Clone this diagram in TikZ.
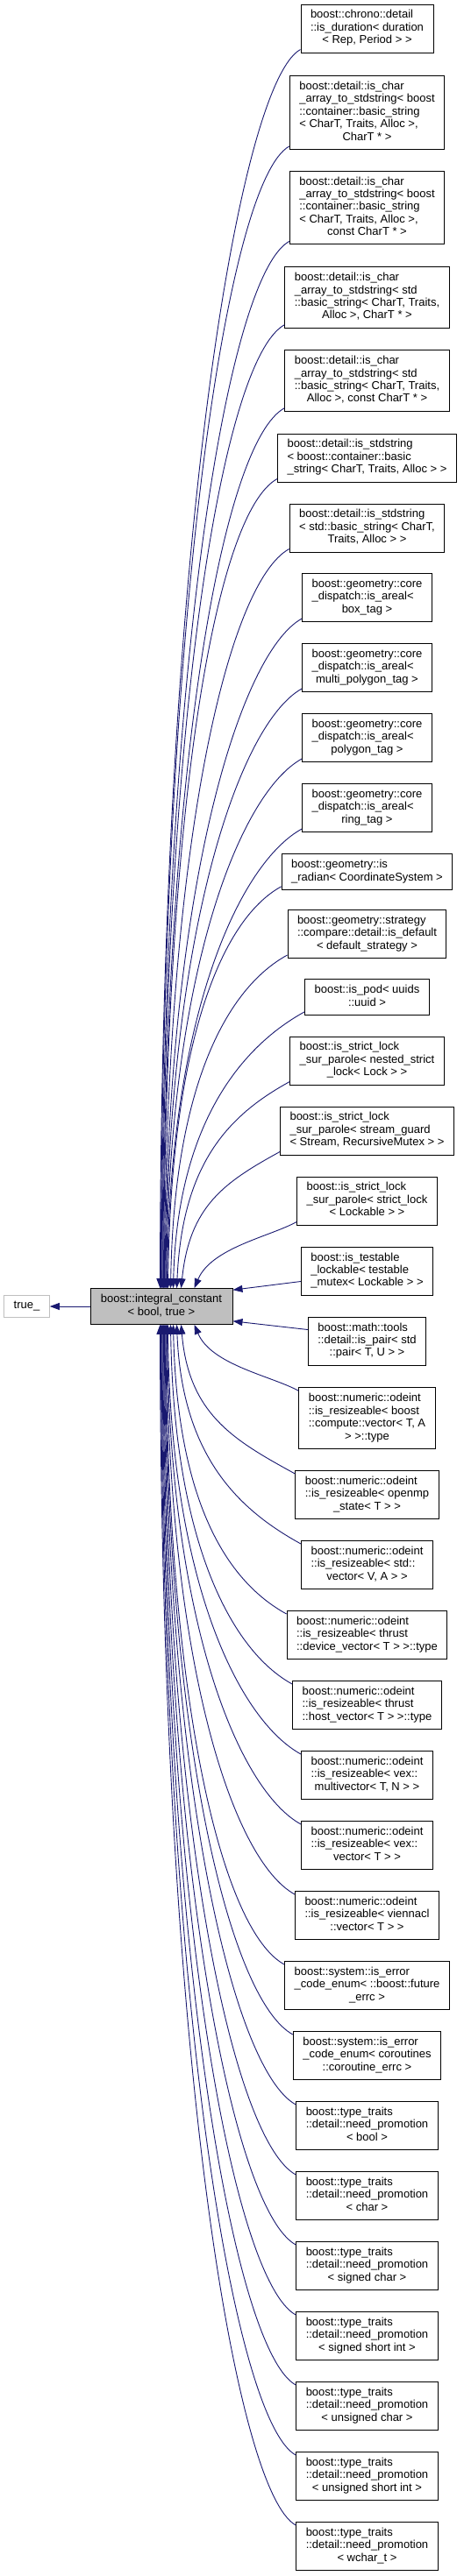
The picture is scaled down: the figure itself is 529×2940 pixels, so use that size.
\documentclass[tikz,border=0pt]{standalone}
\usepackage{fontspec}
\setmainfont{Liberation Sans}
\usetikzlibrary{arrows.meta}
\definecolor{edgeblue}{HTML}{191970}
\definecolor{greyfill}{HTML}{BFBFBF}
% lines left aligned, last line centred
\newcommand\cls[2]{\begin{tabular}{@{}l@{}}#1\\\multicolumn{1}{@{}c@{}}{#2}\end{tabular}}

\begin{document}
\begin{tikzpicture}[x=1pt,y=-1pt,
  cbox/.style={draw=black,line width=1pt,fill=white,inner xsep=11pt,inner ysep=5.9pt,
    font=\fontsize{13}{14.4}\selectfont},
  inh/.style={draw=edgeblue,line width=0.9pt,-{Triangle[length=11pt,width=8pt]}}]
\useasboundingbox (0,0) rectangle (529,2940);
\node[cbox,fill=greyfill,minimum width=162pt] (ic) at (184,1491) {\cls{boost::integral\_constant}{< bool, true >}};
\node[cbox,draw=greyfill,minimum width=51pt,minimum height=25pt] (tr) at (30.5,1491) {true\_};
\draw[inh] (ic) -- (tr);
\foreach \i/\y/\n/\tx/\txt in {
 1/32.5/3/183/{\cls{boost::chrono::detail\\::is\_duration< duration}{< Rep, Period > >}},
 2/128.5/5/183.8/{\cls{boost::detail::is\_char\\\_array\_to\_stdstring< boost\\::container::basic\_string\\< CharT, Traits, Alloc >,}{CharT * >}},
 3/237/5/184.6/{\cls{boost::detail::is\_char\\\_array\_to\_stdstring< boost\\::container::basic\_string\\< CharT, Traits, Alloc >,}{const CharT * >}},
 4/339.5/4/185.4/{\cls{boost::detail::is\_char\\\_array\_to\_stdstring< std\\::basic\_string< CharT, Traits,}{Alloc >, CharT * >}},
 5/434.5/4/186.2/{\cls{boost::detail::is\_char\\\_array\_to\_stdstring< std\\::basic\_string< CharT, Traits,}{Alloc >, const CharT * >}},
 6/522.5/3/187/{\cls{boost::detail::is\_stdstring\\< boost::container::basic}{\_string< CharT, Traits, Alloc > >}},
 7/602.5/3/187.8/{\cls{boost::detail::is\_stdstring\\< std::basic\_string< CharT,}{Traits, Alloc > >}},
 8/682/3/188.6/{\cls{boost::geometry::core\\\_dispatch::is\_areal<}{box\_tag >}},
 9/762/3/189.4/{\cls{boost::geometry::core\\\_dispatch::is\_areal<}{multi\_polygon\_tag >}},
 10/842/3/190.2/{\cls{boost::geometry::core\\\_dispatch::is\_areal<}{polygon\_tag >}},
 11/922/3/191/{\cls{boost::geometry::core\\\_dispatch::is\_areal<}{ring\_tag >}},
 12/995/2/192/{\cls{boost::geometry::is}{\_radian< CoordinateSystem >}},
 13/1066/3/195/{\cls{boost::geometry::strategy\\::compare::detail::is\_default}{< default\_strategy >}},
 14/1138/2/198/{\cls{boost::is\_pod< uuids}{::uuid >}},
 15/1210.5/3/202/{\cls{boost::is\_strict\_lock\\\_sur\_parole< nested\_strict}{\_lock< Lock > >}},
 16/1290.5/3/207/{\cls{boost::is\_strict\_lock\\\_sur\_parole< stream\_guard}{< Stream, RecursiveMutex > >}},
 17/1370.5/3/222/{\cls{boost::is\_strict\_lock\\\_sur\_parole< strict\_lock}{< Lockable > >}},
 18/1450.5/3/0/{\cls{boost::is\_testable\\\_lockable< testable}{\_mutex< Lockable > >}},
 19/1530.5/3/0/{\cls{boost::math::tools\\::detail::is\_pair< std}{::pair< T, U > >}},
 20/1618.5/4/222/{\cls{boost::numeric::odeint\\::is\_resizeable< boost\\::compute::vector< T, A}{> >::type}},
 21/1706/3/207/{\cls{boost::numeric::odeint\\::is\_resizeable< openmp}{\_state< T > >}},
 22/1786/3/202/{\cls{boost::numeric::odeint\\::is\_resizeable< std::}{vector< V, A > >}},
 23/1866/3/198/{\cls{boost::numeric::odeint\\::is\_resizeable< thrust}{::device\_vector< T > >::type}},
 24/1946/3/195/{\cls{boost::numeric::odeint\\::is\_resizeable< thrust}{::host\_vector< T > >::type}},
 25/2026/3/191.8/{\cls{boost::numeric::odeint\\::is\_resizeable< vex::}{multivector< T, N > >}},
 26/2106/3/191/{\cls{boost::numeric::odeint\\::is\_resizeable< vex::}{vector< T > >}},
 27/2186/3/190.2/{\cls{boost::numeric::odeint\\::is\_resizeable< viennacl}{::vector< T > >}},
 28/2266/3/189.4/{\cls{boost::system::is\_error\\\_code\_enum< ::boost::future}{\_errc >}},
 29/2346/3/188.6/{\cls{boost::system::is\_error\\\_code\_enum< coroutines}{::coroutine\_errc >}},
 30/2426/3/187.8/{\cls{boost::type\_traits\\::detail::need\_promotion}{< bool >}},
 31/2506/3/187/{\cls{boost::type\_traits\\::detail::need\_promotion}{< char >}},
 32/2586/3/186.2/{\cls{boost::type\_traits\\::detail::need\_promotion}{< signed char >}},
 33/2666/3/185.4/{\cls{boost::type\_traits\\::detail::need\_promotion}{< signed short int >}},
 34/2746/3/184.6/{\cls{boost::type\_traits\\::detail::need\_promotion}{< unsigned char >}},
 35/2826/3/183.8/{\cls{boost::type\_traits\\::detail::need\_promotion}{< unsigned short int >}},
 36/2906/3/183/{\cls{boost::type\_traits\\::detail::need\_promotion}{< wchar\_t >}}}{
  \node[cbox] (c\i) at (418.5,\y) {\txt};
  \pgfmathsetmacro\hh{7.2*\n+5.9}
  \pgfmathsetmacro\sx{\tx-103}
  % classes above the hub
  \ifnum\i<18
    \pgfmathsetmacro\dy{1471-\y-\hh+4}
    \pgfmathsetmacro\kx{min(70,0.4*\dy)}
    \pgfmathsetmacro\kk{0.55*\kx}
    \pgfmathsetmacro\mx{0.6*\dy}
    \pgfmathsetmacro\bx{1500/\dy}
    \draw[inh] ([yshift=4pt]c\i.south west) .. controls +(-\kx,\kk) and +(\bx,-\mx) .. ([xshift=\sx pt]ic.north west);
  \fi
  % classes below the hub
  \ifnum\i>19
    \pgfmathsetmacro\dy{\y-\hh+4-1511}
    \pgfmathsetmacro\kx{min(70,0.4*\dy)}
    \pgfmathsetmacro\kk{0.55*\kx}
    \pgfmathsetmacro\mx{0.6*\dy}
    \pgfmathsetmacro\bx{1500/\dy}
    \draw[inh] ([yshift=-4pt]c\i.north west) .. controls +(-\kx,-\kk) and +(\bx,\mx) .. ([xshift=\sx pt]ic.south west);
  \fi
}
\draw[inh] ([yshift=-12pt]c18.west) -- ([yshift=-2pt]ic.north east);
\draw[inh] ([yshift=-15pt]c19.north west) -- ([yshift=4pt]ic.south east);
\end{tikzpicture}
\end{document}
